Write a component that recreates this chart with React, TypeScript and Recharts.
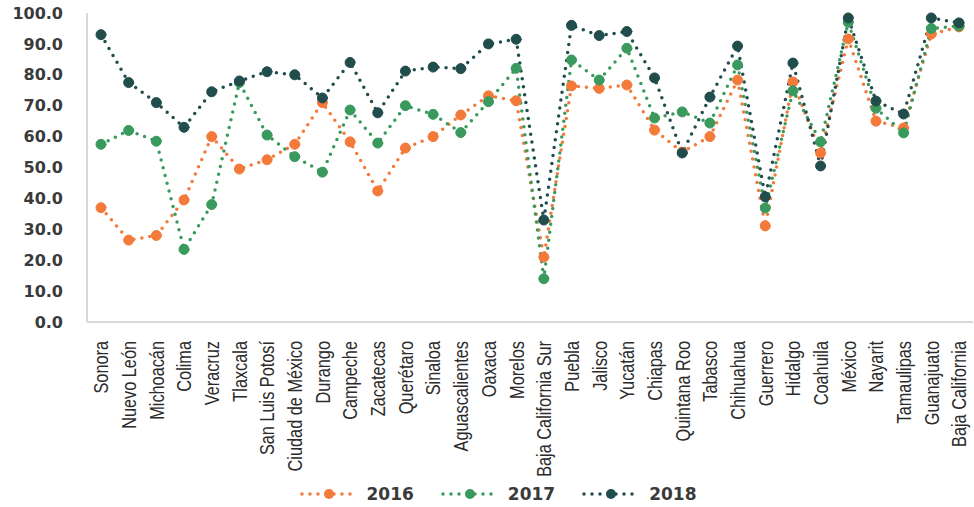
import { Legend, Line, LineChart, XAxis, YAxis } from 'recharts';

const states = [
    'Sonora', 'Nuevo León', 'Michoacán', 'Colima', 'Veracruz', 'Tlaxcala', 'San Luis Potosí', 'Ciudad de México',
    'Durango', 'Campeche', 'Zacatecas', 'Querétaro', 'Sinaloa', 'Aguascalientes', 'Oaxaca', 'Morelos',
    'Baja California Sur', 'Puebla', 'Jalisco', 'Yucatán', 'Chiapas', 'Quintana Roo', 'Tabasco', 'Chihuahua',
    'Guerrero', 'Hidalgo', 'Coahuila', 'México', 'Nayarit', 'Tamaulipas', 'Guanajuato', 'Baja California',
];

const values2016 = [
    37, 26.5, 28, 39.5, 60, 49.5, 52.5, 57.5, 71, 58.3, 42.4, 56.3, 60, 67, 73.2, 71.6,
    21, 76.4, 75.6, 76.7, 62.1, 55, 60, 78.3, 31.1, 77.7, 54.7, 91.6, 65, 62.8, 93.2, 95.5,
];
const values2017 = [
    57.5, 62, 58.5, 23.5, 38, 77.5, 60.5, 53.5, 48.5, 68.6, 57.9, 70, 67.2, 61.3, 71.3, 82.1,
    14, 84.8, 78.3, 88.6, 66, 68, 64.4, 83.2, 36.9, 74.8, 58.3, 97, 69.2, 61.2, 95, 95.8,
];
const values2018 = [
    93, 77.5, 71, 63, 74.5, 78, 81, 80, 72.5, 84, 67.7, 81.2, 82.5, 82, 90, 91.5,
    33, 96, 92.7, 94, 79, 54.7, 72.8, 89.3, 40.5, 83.8, 50.5, 98.4, 71.5, 67.3, 98.4, 96.8,
];
const yTicks = [0, 10, 20, 30, 40, 50, 60, 70, 80, 90, 100];

const series = [
    { key: 'y2016', name: '2016', color: '#F47A3A' },
    { key: 'y2017', name: '2017', color: '#3A9A5E' },
    { key: 'y2018', name: '2018', color: '#214D4D' },
];

const data = states.map((state, i) => ({
    state,
    y2016: values2016[i],
    y2017: values2017[i],
    y2018: values2018[i],
}));

// labels in the source are drawn a bit wider than the font, hence the extra scale across the glyphs
function StateTick({ x, y, payload }: { x?: number; y?: number; payload?: { value: string } }) {
    const top = (y ?? 0) + 11;
    return (
        <g transform={`translate(${x}, ${top}) rotate(-90) scale(1, 1.25)`}>
            <text x={0} y={0} dy="0.36em" textAnchor="end" fontFamily="'Liberation Sans', sans-serif" fontSize={16.3} fill="#2b2b2b">
                {payload?.value}
            </text>
        </g>
    );
}

function YearLegend() {
    return (
        <div style={{ display: 'flex', justifyContent: 'center', alignItems: 'center', height: 26, paddingLeft: 50 }}>
            {series.map((s) => (
                <div key={s.key} style={{ display: 'flex', alignItems: 'center', marginRight: 27 }}>
                    <svg width={57} height={14}>
                        <line x1={2} y1={7} x2={55} y2={7} stroke={s.color} strokeWidth={3.5} strokeDasharray="0 8" strokeLinecap="round" />
                        <circle cx={29} cy={7} r={5} fill={s.color} />
                    </svg>
                    <span style={{ marginLeft: 10, fontFamily: "'DejaVu Sans', sans-serif", fontWeight: 'bold', fontSize: 17, color: '#3a3a3a' }}>
                        {s.name}
                    </span>
                </div>
            ))}
        </div>
    );
}

export default function App() {
    return (
        <div style={{ position: 'absolute', left: 0, top: 0, background: '#fff' }}>
            <LineChart width={974} height={507} data={data} margin={{ top: 13, right: 1, left: 0, bottom: 0 }}>
                <XAxis
                    dataKey="state"
                    interval={0}
                    height={159}
                    padding={{ left: 14, right: 14 }}
                    tick={<StateTick />}
                    tickLine={false}
                    axisLine={{ stroke: '#d9d9d9', strokeWidth: 2 }}
                />
                <YAxis
                    domain={[0, 100]}
                    ticks={yTicks}
                    width={87}
                    tickFormatter={(v) => Number(v).toFixed(1)}
                    tick={{ fontSize: 16, fontWeight: 'bold', fill: '#3a3a3a', fontFamily: "'DejaVu Sans', sans-serif" }}
                    tickLine={false}
                    tickMargin={18}
                    axisLine={{ stroke: '#d9d9d9', strokeWidth: 2 }}
                />
                <Legend verticalAlign="bottom" wrapperStyle={{ height: 26 }} content={<YearLegend />} />
                {series.map((s) => (
                    <Line
                        key={s.key}
                        type="linear"
                        dataKey={s.key}
                        name={s.name}
                        stroke={s.color}
                        strokeWidth={3.5}
                        strokeDasharray="0 8"
                        strokeLinecap="round"
                        dot={{ r: 5, fill: s.color, stroke: s.color, strokeWidth: 1, strokeDasharray: '0' }}
                        isAnimationActive={false}
                    />
                ))}
            </LineChart>
        </div>
    );
}
